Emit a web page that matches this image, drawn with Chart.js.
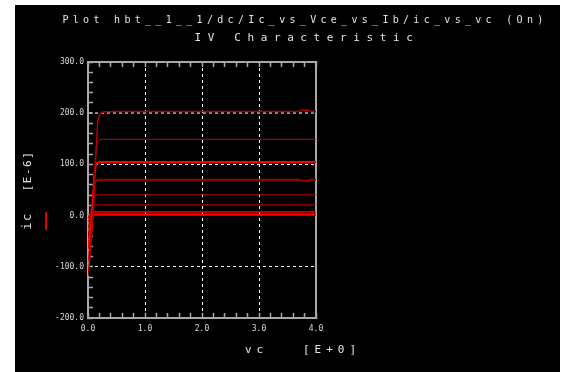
<!DOCTYPE html>
<html lang="en">
<head>
    <meta charset="UTF-8">
    <title>IV Characteristic</title>
    <script src="https://cdn.jsdelivr.net/npm/chart.js"></script>
    <style>
        body {
            margin: 0;
            width: 575px;
            height: 372px;
            overflow: hidden;
            position: relative;
            background: #fff;
            font-family: "DejaVu Sans Mono", monospace;
        }
        #panel {
            position: absolute;
            left: 15px;
            top: 5px;
            width: 545px;
            height: 367px;
            background: #000;
        }
        canvas {
            position: absolute;
            left: 0;
            top: 0;
        }
        .txt {
            position: absolute;
            color: #e4e4e4;
            white-space: nowrap;
        }
        .rot {
            transform: translate(-50%, -50%) rotate(-90deg);
        }
    </style>
</head>
<body>
    <div id="panel"></div>
    <canvas id="ivChart" width="575" height="372"></canvas>

    <div class="txt" style="left:0;width:610px;top:14px;text-align:center;font-size:10px;letter-spacing:4.3px">Plot hbt__1__1/dc/Ic_vs_Vce_vs_Ib/ic_vs_vc (On)</div>
    <div class="txt" style="left:0;width:614px;top:31px;text-align:center;font-size:11px;letter-spacing:6.6px">IV Characteristic</div>

    <div class="txt rot" style="left:27px;top:171px;font-size:11px;letter-spacing:1.5px">[E-6]</div>
    <div class="txt rot" style="left:27px;top:221px;font-size:12px;letter-spacing:1.5px">ic</div>
    <div style="position:absolute;left:45px;top:212px;width:2px;height:18px;background:#e00000"></div>

    <div class="txt" style="left:245px;top:343px;font-size:11px;letter-spacing:5px">vc</div>
    <div class="txt" style="left:303px;top:343px;font-size:11px;letter-spacing:5px">[E+0]</div>

    <script>
        // sweep voltage (V)
        const vc = [0, 0.04, 0.07, 0.09, 0.11, 0.13, 0.15, 0.17, 0.2, 0.25, 0.3, 0.5, 1, 2, 3, 3.7, 3.76, 3.86, 3.92, 4];

        // collector current for each base current step (E-6)
        const ic1 = [-118, -75, -30, 0, 50, 100, 145, 182, 197, 202, 203, 203.5, 203.5, 203.5, 203.5, 203.5, 206, 206, 203.5, 203.5];
        const ic2 = [-90, -50, -10, 20, 70, 115, 138, 145, 148, 149, 149, 149, 149, 149, 149, 149, 149, 149, 149, 149];
        const ic3 = [-65, -30, 5, 35, 75, 95, 101, 103, 104, 104.5, 104.5, 104.5, 104.5, 104.5, 104.5, 104.5, 104.5, 104.5, 104.5, 104.5];
        const ic4 = [-45, -18, 15, 40, 60, 67, 69, 69.5, 70, 70, 70, 70, 70, 70, 70, 70, 68, 68, 70, 70];
        const ic5 = [-25, -5, 20, 32, 38, 40, 40.5, 40.5, 40.5, 40.5, 40.5, 40.5, 40.5, 40.5, 40.5, 40.5, 40.5, 40.5, 40.5, 40.5];
        const ic6 = [-13, 0, 14, 19, 20.5, 21, 21, 21, 21, 21, 21, 21, 21, 21, 21, 21, 21, 21, 21, 21];
        const ic7 = [-5, 3, 6, 7, 7, 7, 7, 7, 7, 7, 7, 7, 7, 7, 7, 7, 7, 7, 7, 7];
        const ic8 = [-1.5, 0.5, 1.5, 1.5, 1.5, 1.5, 1.5, 1.5, 1.5, 1.5, 1.5, 1.5, 1.5, 1.5, 1.5, 1.5, 1.5, 1.5, 1.5, 1.5];

        const curves = [ic1, ic2, ic3, ic4, ic5, ic6, ic7, ic8];
        const curveColors = ['#b00000', '#c80000', '#ff0000', '#a00000', '#cc0000', '#d40000', '#ff0000', '#ff0000'];
        const curveWidths = [1.5, 1, 2, 2, 1, 1, 1.5, 2];

        const xMajor = [1, 2, 3];
        const yMajor = [-100, 100, 200];

        const tickFont = { family: 'DejaVu Sans Mono', size: 8 };
        const axisGray = '#a8a8a8';

        function isMajor(list, v) {
            return list.some(m => Math.abs(m - v) < 1e-6);
        }

        const datasets = curves.map((ic, i) => ({
            label: 'ic' + (i + 1),
            data: vc.map((v, j) => ({ x: v, y: ic[j] })),
            borderColor: curveColors[i],
            borderWidth: curveWidths[i],
            pointRadius: 0,
            tension: 0,
            fill: false
        }));

        new Chart(document.getElementById('ivChart').getContext('2d'), {
            type: 'line',
            data: { datasets: datasets },
            options: {
                responsive: false,
                animation: false,
                layout: { padding: 0 },
                plugins: {
                    legend: { display: false },
                    tooltip: { enabled: false }
                },
                scales: {
                    x: {
                        type: 'linear',
                        position: 'bottom',
                        min: 0,
                        max: 4,
                        afterFit: s => { s.height = 54; },
                        ticks: {
                            stepSize: 0.2,
                            autoSkip: false,
                            maxRotation: 0,
                            padding: 11,
                            color: '#d8d8d8',
                            font: tickFont,
                            callback: v => Math.abs(v - Math.round(v)) < 1e-6 ? v.toFixed(1) : ''
                        },
                        grid: {
                            color: c => isMajor(xMajor, c.tick.value) ? '#ffffff' : 'rgba(0,0,0,0)',
                            lineWidth: 1,
                            tickLength: -5,
                            tickColor: axisGray,
                            tickWidth: 1.5
                        },
                        border: { display: true, color: axisGray, width: 2, dash: [3, 3] }
                    },
                    x2: {
                        type: 'linear',
                        position: 'top',
                        min: 0,
                        max: 4,
                        afterFit: s => { s.height = 62; },
                        ticks: { stepSize: 0.2, autoSkip: false, display: false },
                        grid: {
                            drawOnChartArea: false,
                            tickLength: -5,
                            tickColor: axisGray,
                            tickWidth: 1.5
                        },
                        border: { display: true, color: axisGray, width: 2 }
                    },
                    y: {
                        type: 'linear',
                        position: 'left',
                        min: -200,
                        max: 300,
                        afterFit: s => { s.width = 88; },
                        ticks: {
                            stepSize: 20,
                            autoSkip: false,
                            padding: 9,
                            color: '#d8d8d8',
                            font: tickFont,
                            callback: v => Math.abs(v % 100) < 1e-6 ? v.toFixed(1) : ''
                        },
                        grid: {
                            color: c => {
                                const v = c.tick.value;
                                if (Math.abs(v - 200) < 1e-6) return '#8c8c8c';
                                return isMajor(yMajor, v) ? '#ffffff' : 'rgba(0,0,0,0)';
                            },
                            lineWidth: c => Math.abs(c.tick.value - 200) < 1e-6 ? 2 : 1,
                            tickLength: -5,
                            tickColor: axisGray,
                            tickWidth: 1.5
                        },
                        border: { display: true, color: axisGray, width: 2, dash: [3, 3] }
                    },
                    y2: {
                        type: 'linear',
                        position: 'right',
                        min: -200,
                        max: 300,
                        afterFit: s => { s.width = 259; },
                        ticks: { display: false },
                        grid: { display: false },
                        border: { display: true, color: axisGray, width: 2 }
                    }
                }
            }
        });
    </script>
</body>
</html>
